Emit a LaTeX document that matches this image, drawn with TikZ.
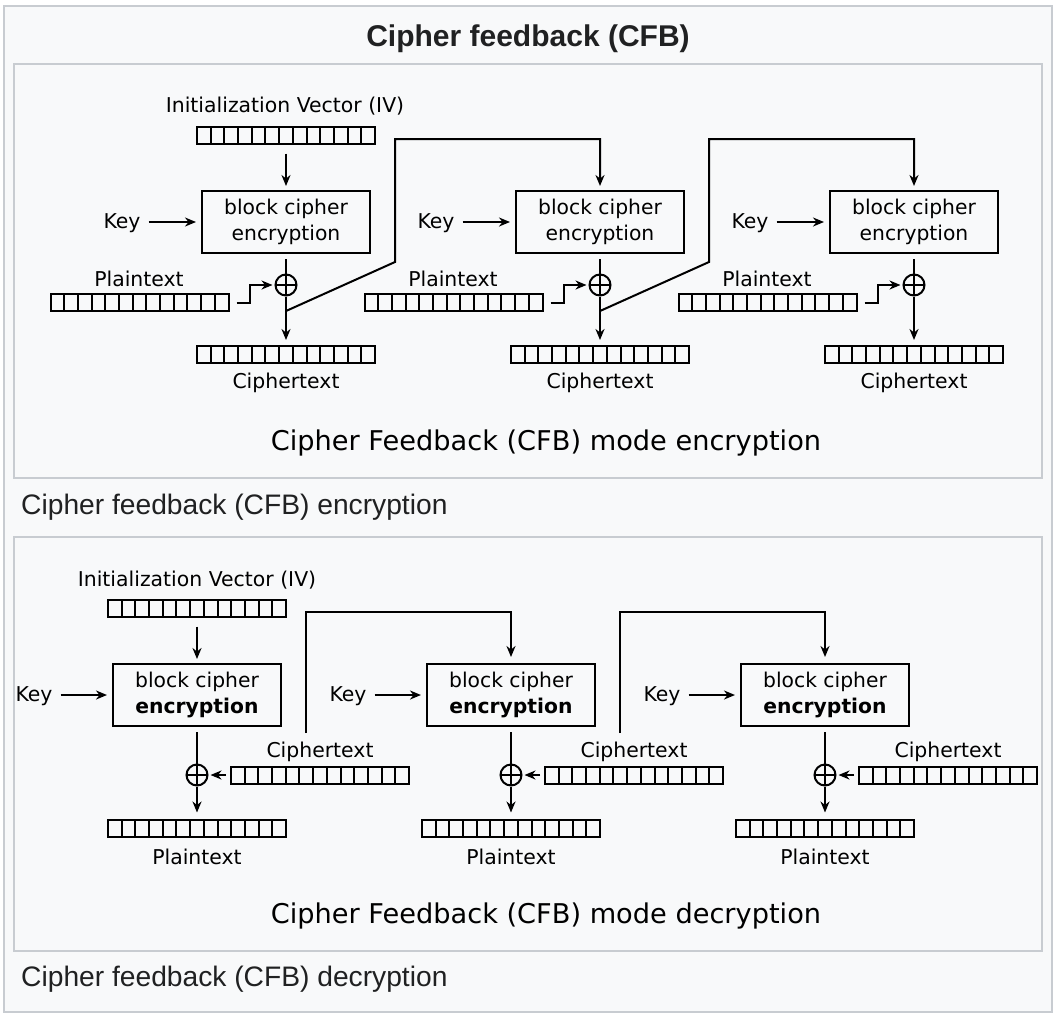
\documentclass[tikz,border=0pt]{standalone}
\usepackage{fontspec}
\usetikzlibrary{arrows.meta,calc}
\newfontfamily\diagfont{DejaVu Sans}
\newfontfamily\pagefont{Liberation Sans}
\definecolor{framegray}{HTML}{C8CCD1}
\definecolor{panelbg}{HTML}{F8F9FA}
\definecolor{captext}{HTML}{202122}

% twelve dividers splitting a bar into thirteen cells
\newcommand\cellsplits{%
  \foreach \k in {1,...,12}
    \draw[line width=2pt]
      ($(path picture bounding box.south west)!\k/13!(path picture bounding box.south east)$)
      -- ++(0,20pt);%
}
\newcommand\xorcross{%
  \draw[line width=2pt]
    (path picture bounding box.north) -- (path picture bounding box.south)
    (path picture bounding box.west) -- (path picture bounding box.east);%
}

\tikzset{
  panelframe/.style={draw=framegray, line width=2pt, fill=panelbg},
  lbl/.style={inner sep=0pt, font=\diagfont\fontsize{20.4}{24}\selectfont},
  modelbl/.style={inner sep=0pt, font=\diagfont\fontsize{27.2}{32}\selectfont},
  capt/.style={inner sep=0pt, anchor=west, text=captext, font=\pagefont\fontsize{28.2}{32}\selectfont},
  cipherbox/.style={draw, line width=2pt, minimum width=168pt, minimum height=62pt,
    align=center, inner sep=0pt, font=\diagfont\fontsize{20.3}{25.5}\selectfont},
  cellbar/.style={draw, line width=2pt, minimum width=178pt, minimum height=17pt, inner sep=0pt,
    path picture={\cellsplits}},
  xorsym/.style={circle, draw, line width=2pt, minimum size=21pt, inner sep=0pt,
    path picture={\xorcross}},
  wire/.style={line width=2pt},
  arr/.style={wire, -{Stealth[length=11pt,width=9pt,inset=3.5pt]}},
}

\begin{document}
\begin{tikzpicture}[x=1pt,y=-1pt]
  % page and panels
  \path[use as bounding box, fill=white] (0,0) rectangle (1054,1018);
  \draw[panelframe] (4,6) rectangle (1052,1012);
  \draw[panelframe] (14,64) rectangle (1042,478);
  \draw[panelframe] (14,537) rectangle (1042,951);

  \node[inner sep=0pt, text=captext, font=\pagefont\fontsize{30}{34}\selectfont\bfseries]
    (title) at (528,39) {Cipher feedback (CFB)};

  % ---------------- encryption ----------------
  \node[lbl] (eivl) at (285,106) {Initialization Vector (IV)};
  \node[cellbar] (eiv) at (286,135) {};

  \foreach \i [evaluate=\i as \cx using 286+314*\i] in {0,1,2} {
    \node[cipherbox] (ebox\i) at (\cx,222) {block cipher\\encryption};
    \node[lbl] (ekey\i) at (\cx-164,223) {Key};
    \draw[arr, shorten <=8pt, shorten >=5pt] (ekey\i.east |- ebox\i.west) -- (ebox\i.west);
    \node[xorsym] (exor\i) at (\cx,285) {};
    \draw[wire, shorten <=5pt] (ebox\i.south) -- (exor\i.north);
    \node[cellbar] (ect\i) at (\cx,354.5) {};
    \node[lbl] (ectl\i) at (\cx,383) {Ciphertext};
    \draw[arr, shorten >=5pt] (exor\i.south) -- (ect\i.north);
    \node[cellbar] (ept\i) at (\cx-146.5,302.5) {};
    \node[lbl] (eptl\i) at (\cx-147,279) {Plaintext};
    \draw[arr, shorten >=2pt] ($(ept\i.east)+(7,0)$) -- ++(13,0) |- (exor\i.west);
    \coordinate (etap\i) at (\cx,311);
  }
  \draw[arr, shorten <=9pt, shorten >=4pt] (eiv.south) -- (ebox0.north);

  \foreach \i/\n [evaluate=\i as \cx using 286+314*\i] in {0/1,1/2} {
    \draw[arr, shorten >=4pt]
      (etap\i) -- (\cx+109,262) -- (\cx+109,139) -| (ebox\n.north);
  }

  \node[modelbl] (encmode) at (546,442.5) {Cipher Feedback (CFB) mode encryption};
  \node[capt] (enccap) at (21,507.5) {Cipher feedback (CFB) encryption};

  % ---------------- decryption ----------------
  \node[lbl] (divl) at (197,580) {Initialization Vector (IV)};
  \node[cellbar] (div) at (197,608) {};

  \foreach \i [evaluate=\i as \cx using 197+314*\i] in {0,1,2} {
    \node[cipherbox] (dbox\i) at (\cx,695) {block cipher\\\textbf{encryption}};
    \node[lbl] (dkey\i) at (\cx-163,696) {Key};
    \draw[arr, shorten <=8pt, shorten >=5pt] (dkey\i.east |- dbox\i.west) -- (dbox\i.west);
    \node[xorsym] (dxor\i) at (\cx,775) {};
    \draw[wire, shorten <=5pt] (dbox\i.south) -- (dxor\i.north);
    \node[cellbar] (dpt\i) at (\cx,828) {};
    \node[lbl] (dptl\i) at (\cx,857) {Plaintext};
    \draw[arr, shorten >=6pt] (dxor\i.south) -- (dpt\i.north);
    \node[cellbar] (dct\i) at (\cx+123,775) {};
    \node[lbl] (dctl\i) at (\cx+123,752) {Ciphertext};
    \draw[arr, shorten <=4pt, shorten >=2pt] (dct\i.west) -- (dxor\i.east);
    \coordinate (dtap\i) at (\cx+109,733);
  }
  \draw[arr, shorten <=9pt, shorten >=4pt] (div.south) -- (dbox0.north);

  \foreach \i/\n [evaluate=\i as \cx using 197+314*\i] in {0/1,1/2} {
    \draw[arr, shorten >=6pt]
      (dtap\i) -- (\cx+109,612) -| (dbox\n.north);
  }

  \node[modelbl] (decmode) at (546,915.5) {Cipher Feedback (CFB) mode decryption};
  \node[capt] (deccap) at (21,979.5) {Cipher feedback (CFB) decryption};
\end{tikzpicture}
\end{document}
